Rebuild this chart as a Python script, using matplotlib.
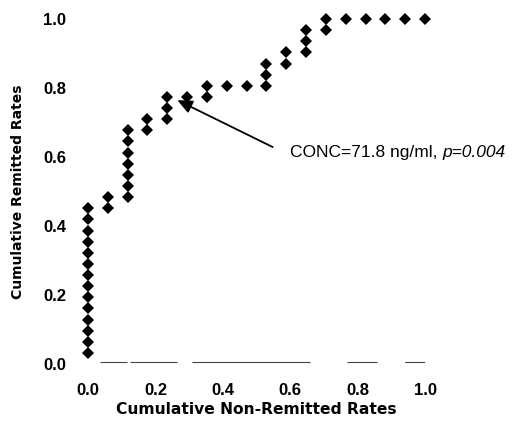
import matplotlib
matplotlib.use("Agg")
import matplotlib.pyplot as plt

# Cumulative non-remitted rates (x) and cumulative remitted rates (y)
n_nonremit = 17
n_remit = 31
x_steps = [0]*14 + [1, 1] + [2]*7 + [3, 3] + [4, 4, 4] + [5] + [6, 6] + [7] + [8] + \
          [9, 9, 9] + [10, 10] + [11, 11, 11] + [12, 12] + [13, 14, 15, 16, 17]
y_steps = list(range(1, 15)) + [14, 15] + [15, 16, 17, 18, 19, 20, 21] + [21, 22] + \
          [22, 23, 24] + [24] + [24, 25] + [25] + [25] + [25, 26, 27] + [27, 28] + \
          [28, 29, 30] + [30, 31] + [31, 31, 31, 31, 31]
x_vals = [k / n_nonremit for k in x_steps]
y_vals = [k / n_remit for k in y_steps]

tick_vals = [0.0, 0.2, 0.4, 0.6, 0.8, 1.0]
tick_labels = ["0.0", "0.2", "0.4", "0.6", "0.8", "1.0"]
annotation_text = "CONC=71.8 ng/ml, "
annotation_p = "p=0.004"

fig = plt.figure(figsize=(5.18, 4.21), dpi=100)
ax = fig.add_axes([0.1438, 0.1107, 0.7027, 0.8686])
ax.plot(x_vals, y_vals, linestyle="none", marker="D", markersize=6.3,
        markeredgewidth=0, color="black")

ax.set_xlim(-0.04, 1.04)
ax.set_ylim(-0.03, 1.03)
for s in ax.spines.values():
    s.set_visible(False)

# faint broken axis line (scan artefact)
lw_axis = 0.8
pattern_pt = [19.4, 2.2, 33.8, 10.8, 85, 26.6, 21.6, 20, 14.4, 10]
ax.plot([0.036, 1.0], [0.005, 0.005], color="#444444", lw=lw_axis,
        dashes=[p / lw_axis for p in pattern_pt])

ax.set_xticks(tick_vals)
ax.set_xticklabels(tick_labels)
ax.set_yticks(tick_vals)
ax.set_yticklabels(tick_labels)
ax.tick_params(length=0, labelsize=12)
for lab in ax.get_xticklabels() + ax.get_yticklabels():
    lab.set_fontfamily("Liberation Sans")
    lab.set_fontweight("bold")
ax.tick_params(axis="x", pad=6)
ax.tick_params(axis="y", pad=6)

ax.set_xlabel("Cumulative Non-Remitted Rates", fontsize=11.2, fontweight="bold",
              family="DejaVu Sans", labelpad=3)
ax.set_ylabel("Cumulative Remitted Rates", fontsize=10, fontweight="bold",
              family="DejaVu Sans", labelpad=13)

ax.annotate("", xy=(0.265, 0.765), xytext=(0.548, 0.629),
            arrowprops=dict(arrowstyle="-|>,head_length=0.9,head_width=0.4",
                            color="black", lw=1.3, shrinkA=0, shrinkB=0))
t = ax.text(0.60, 0.612, annotation_text, fontsize=12.5, family="Liberation Sans",
            va="center", ha="left")
fig.canvas.draw()
bb = t.get_window_extent().transformed(ax.transData.inverted())
ax.text(bb.x1, 0.612, annotation_p, fontsize=12.5, family="Liberation Sans",
        style="italic", va="center", ha="left")

fig.savefig("out.png", dpi=100)
